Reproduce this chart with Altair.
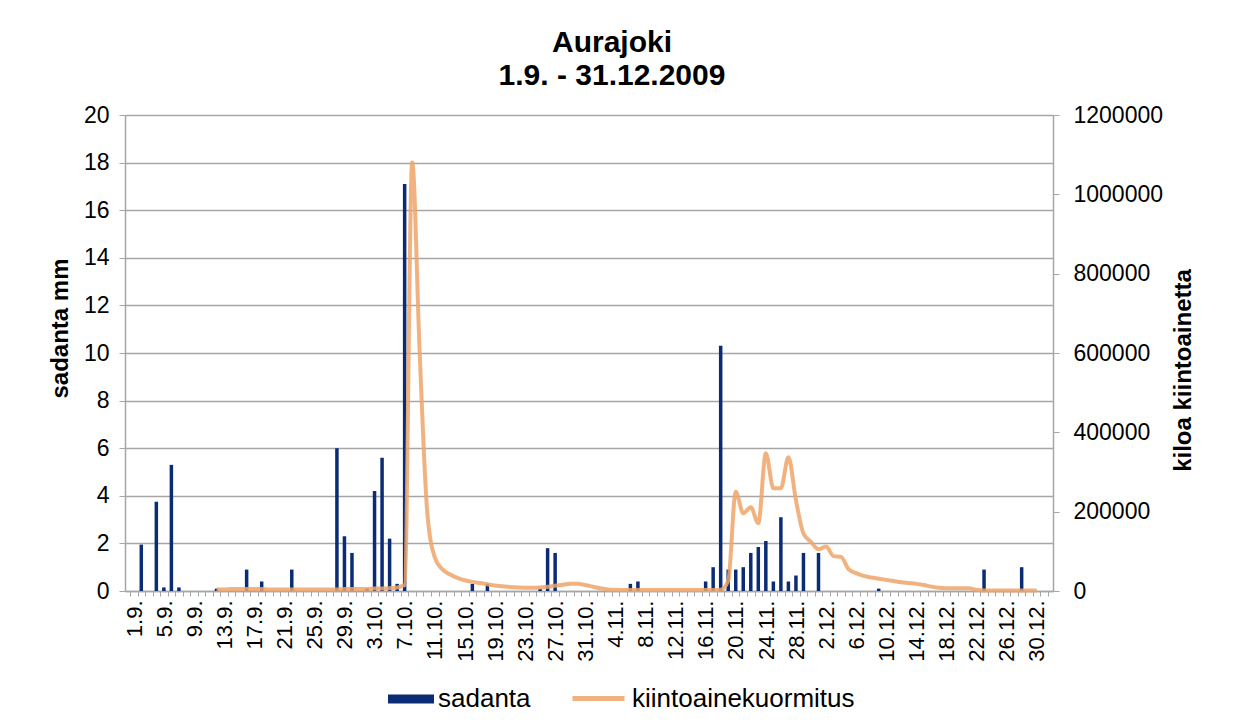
import altair as alt
import pandas as pd

FONT = "Liberation Sans"
BLUE = "#0A2C74"
ORANGE = "#EFA46A"
GRID = "#A6A6A6"

# category labels: every day 1.9. - 31.12.
months = [("9", 30), ("10", 31), ("11", 30), ("12", 31)]
day_labels = [f"{d}.{m}." for m, n in months for d in range(1, n + 1)]

# sadanta (rainfall, mm)
rain_dates = ["2.9.", "4.9.", "5.9.", "6.9.", "7.9.", "12.9.", "16.9.", "18.9.", "22.9.",
              "28.9.", "29.9.", "30.9.", "2.10.", "3.10.", "4.10.", "5.10.", "6.10.", "7.10.",
              "16.10.", "18.10.", "25.10.", "26.10.", "27.10.", "6.11.", "7.11.",
              "16.11.", "17.11.", "18.11.", "19.11.", "20.11.", "21.11.", "22.11.", "23.11.",
              "24.11.", "25.11.", "26.11.", "27.11.", "28.11.", "29.11.", "1.12.", "9.12.",
              "23.12.", "28.12."]
rain_mm = [1.95, 3.75, 0.15, 5.3, 0.15, 0.1, 0.9, 0.4, 0.9,
           6.0, 2.3, 1.6, 0.1, 4.2, 5.6, 2.2, 0.3, 17.1,
           0.3, 0.3, 0.1, 1.8, 1.6, 0.3, 0.4,
           0.4, 1.0, 10.3, 0.9, 0.9, 1.0, 1.6, 1.85,
           2.1, 0.4, 3.1, 0.4, 0.65, 1.6, 1.6, 0.1,
           0.9, 1.0]

# kiintoainekuormitus (kg), daily from 12.9. to 30.12.
load_first = "12.9."
load_kg = [4000, 4000, 5000, 5000, 5000, 5000, 5000, 4000, 4000, 4000,
           4000, 4000, 4000, 4000, 4000, 4000, 4000, 5000, 5000, 5000,
           5000, 6000, 6000, 7000, 9000,
           15000, 1080000, 600000, 200000, 85000, 55000, 42000, 33000, 27000, 23000,
           20000, 17000, 14000, 12000, 10000, 9000, 8000, 8000, 9000, 11000,
           13000, 16000, 18000, 18000, 15000, 11000, 7000, 4000,
           3000, 2500, 2500, 2500, 2500, 2500, 2500, 2500, 2500, 2500, 2500, 2500, 2500, 2500,
           3000, 25000, 250000, 196000, 211000, 171000, 347000, 259000, 259000, 337000,
           229000, 145000, 124000, 105000, 112000, 88000, 86000, 55000, 45000, 38000,
           34000, 31000, 28000, 25000, 22000, 20000, 18000, 15000, 11000, 8000,
           7000, 7000, 7000, 7000, 3000, 1500, 1500, 1500, 1500, 1500, 1500, 1500, 1500]

idx = {lab: i for i, lab in enumerate(day_labels)}
rain_df = pd.DataFrame({
    "pos": [idx[d] + 0.5 for d in rain_dates],
    "mm": rain_mm,
    "series": ["sadanta"] * len(rain_mm),
    "date": rain_dates,
})
s0 = idx[load_first]
load_df = pd.DataFrame({
    "pos": [s0 + k + 0.5 for k in range(len(load_kg))],
    "kg": load_kg,
    "series": ["kiintoainekuormitus"] * len(load_kg),
})

labels_js = "[" + ",".join(f"'{l}'" for l in day_labels) + "]"
n_days = len(day_labels)

x_scale = alt.Scale(domain=[0, n_days], nice=False, zero=False)
x_axis = alt.Axis(
    values=list(range(0, n_days + 1)),
    tickSize=5, tickColor=GRID, tickWidth=1,
    domainColor=GRID, domainWidth=1.5,
    labelExpr=f"datum.value % 4 == 0 && datum.value < {n_days} ? {labels_js}[datum.value] : ''",
    labelAngle=270, labelAlign="right", labelBaseline="middle",
    labelOffset=4, labelPadding=4, labelFontSize=22, labelColor="black",
    labelOverlap=False, labelFlush=False, grid=False, title=None,
)

bars = alt.Chart(rain_df).mark_bar(size=3.5).encode(
    x=alt.X("pos:Q", scale=x_scale, axis=x_axis),
    y=alt.Y("mm:Q", scale=alt.Scale(domain=[0, 20], nice=False),
            axis=alt.Axis(values=list(range(0, 21, 2)), grid=True, gridColor=GRID, gridWidth=1.5,
                          tickSize=6, tickColor=GRID, domainColor=GRID, domainWidth=1.5,
                          labelFontSize=23, labelPadding=10, labelColor="black",
                          title="sadanta mm", titleFontSize=24, titleFontWeight="bold",
                          titleColor="black", titleX=-65, titleY=213, titleAngle=270,
                          titleAlign="center", titleBaseline="middle")),
    fill=alt.Fill("series:N", scale=alt.Scale(domain=["sadanta"], range=[BLUE]),
                  legend=alt.Legend(orient="none", legendX=263, legendY=561, title=None,
                                    symbolType="M-1,-0.2H1V0.2H-1Z", symbolSize=2116,
                                    symbolStrokeWidth=0, labelFontSize=26, labelColor="black",
                                    labelFont=FONT, labelOffset=4, labelLimit=0, padding=0)),
)

line = alt.Chart(load_df).mark_line(strokeWidth=4, interpolate="monotone", opacity=0.85).encode(
    x=alt.X("pos:Q", scale=x_scale, axis=x_axis),
    y=alt.Y("kg:Q", scale=alt.Scale(domain=[0, 1200000], nice=False),
            axis=alt.Axis(orient="right", values=list(range(0, 1200001, 200000)), format="d",
                          grid=False, tickSize=6, tickColor=GRID, domainColor=GRID, domainWidth=1.5,
                          labelFontSize=23, labelPadding=14, labelColor="black",
                          title="kiloa kiintoainetta", titleFontSize=24, titleFontWeight="bold",
                          titleColor="black", titleX=130, titleY=255, titleAngle=270,
                          titleAlign="center", titleBaseline="middle")),
    stroke=alt.Stroke("series:N", scale=alt.Scale(domain=["kiintoainekuormitus"], range=[ORANGE]),
                      legend=alt.Legend(orient="none", legendX=445, legendY=555, title=None,
                                        symbolType="stroke", symbolSize=2704, symbolStrokeWidth=5,
                                        labelFontSize=26, labelColor="black", labelFont=FONT,
                                        labelOffset=5, labelLimit=0, padding=0)),
)

chart = alt.layer(bars, line).resolve_scale(y="independent").properties(
    width=928, height=476,
    title=alt.TitleParams(text=["Aurajoki", "1.9. - 31.12.2009"], fontSize=30, font=FONT,
                          fontWeight="bold", anchor="middle", dx=23, offset=13, lineHeight=33,
                          color="black"),
    autosize=alt.AutoSizeParams(type="none"),
    padding={"left": 117, "top": 107, "right": 182, "bottom": 131},
    background="white",
).configure_view(stroke="transparent").configure_axis(labelFont=FONT, titleFont=FONT)

chart.save("out.html", embed_options={"renderer": "svg", "actions": False})
